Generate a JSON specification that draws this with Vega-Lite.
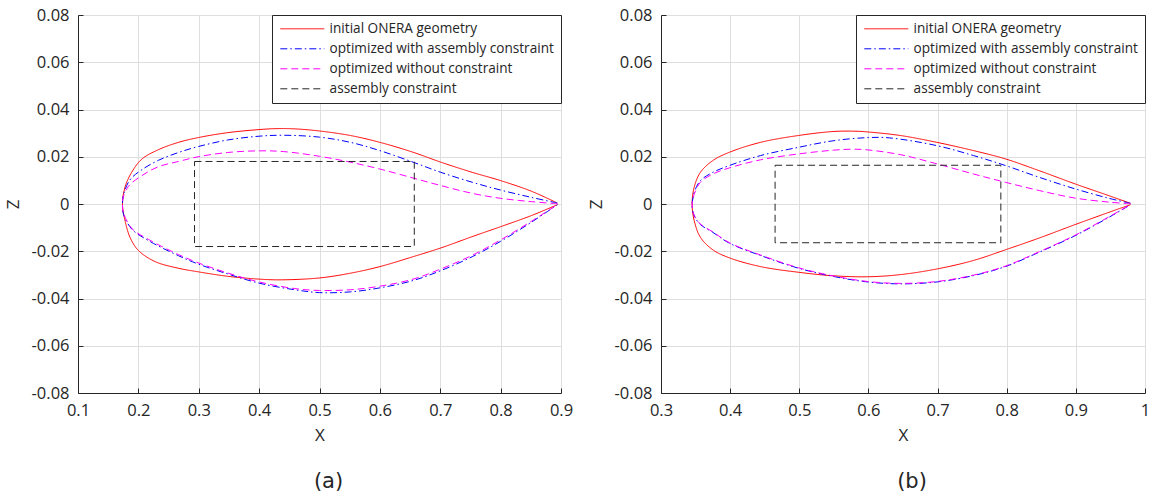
{
  "$schema": "https://vega.github.io/schema/vega-lite/v6.json",
  "background": "white",
  "padding": {"left": 4, "top": 7, "right": 0, "bottom": 0},
  "spacing": 100,
  "bounds": "flush",
  "datasets": {
    "airfoil": [
      {"p":"a","s":"initial ONERA geometry","i":0,"x":0.894,"z":0.0004},
      {"p":"a","s":"initial ONERA geometry","i":1,"x":0.851,"z":0.0054},
      {"p":"a","s":"initial ONERA geometry","i":2,"x":0.800,"z":0.0099},
      {"p":"a","s":"initial ONERA geometry","i":3,"x":0.753,"z":0.0134},
      {"p":"a","s":"initial ONERA geometry","i":4,"x":0.701,"z":0.0177},
      {"p":"a","s":"initial ONERA geometry","i":5,"x":0.655,"z":0.0219},
      {"p":"a","s":"initial ONERA geometry","i":6,"x":0.600,"z":0.0261},
      {"p":"a","s":"initial ONERA geometry","i":7,"x":0.551,"z":0.0290},
      {"p":"a","s":"initial ONERA geometry","i":8,"x":0.500,"z":0.0309},
      {"p":"a","s":"initial ONERA geometry","i":9,"x":0.459,"z":0.0318},
      {"p":"a","s":"initial ONERA geometry","i":10,"x":0.428,"z":0.0319},
      {"p":"a","s":"initial ONERA geometry","i":11,"x":0.400,"z":0.0315},
      {"p":"a","s":"initial ONERA geometry","i":12,"x":0.348,"z":0.0302},
      {"p":"a","s":"initial ONERA geometry","i":13,"x":0.299,"z":0.0281},
      {"p":"a","s":"initial ONERA geometry","i":14,"x":0.2665,"z":0.0261},
      {"p":"a","s":"initial ONERA geometry","i":15,"x":0.2333,"z":0.0230},
      {"p":"a","s":"initial ONERA geometry","i":16,"x":0.2057,"z":0.0190},
      {"p":"a","s":"initial ONERA geometry","i":17,"x":0.1891,"z":0.0135},
      {"p":"a","s":"initial ONERA geometry","i":18,"x":0.1782,"z":0.0074},
      {"p":"a","s":"initial ONERA geometry","i":19,"x":0.1737,"z":0.0},
      {"p":"a","s":"initial ONERA geometry","i":20,"x":0.1782,"z":-0.0074},
      {"p":"a","s":"initial ONERA geometry","i":21,"x":0.1865,"z":-0.0143},
      {"p":"a","s":"initial ONERA geometry","i":22,"x":0.2002,"z":-0.0197},
      {"p":"a","s":"initial ONERA geometry","i":23,"x":0.2279,"z":-0.0244},
      {"p":"a","s":"initial ONERA geometry","i":24,"x":0.2665,"z":-0.0272},
      {"p":"a","s":"initial ONERA geometry","i":25,"x":0.299,"z":-0.0287},
      {"p":"a","s":"initial ONERA geometry","i":26,"x":0.348,"z":-0.0306},
      {"p":"a","s":"initial ONERA geometry","i":27,"x":0.400,"z":-0.0318},
      {"p":"a","s":"initial ONERA geometry","i":28,"x":0.437,"z":-0.0321},
      {"p":"a","s":"initial ONERA geometry","i":29,"x":0.500,"z":-0.0313},
      {"p":"a","s":"initial ONERA geometry","i":30,"x":0.551,"z":-0.0293},
      {"p":"a","s":"initial ONERA geometry","i":31,"x":0.600,"z":-0.0265},
      {"p":"a","s":"initial ONERA geometry","i":32,"x":0.655,"z":-0.0223},
      {"p":"a","s":"initial ONERA geometry","i":33,"x":0.701,"z":-0.0186},
      {"p":"a","s":"initial ONERA geometry","i":34,"x":0.753,"z":-0.0138},
      {"p":"a","s":"initial ONERA geometry","i":35,"x":0.800,"z":-0.0096},
      {"p":"a","s":"initial ONERA geometry","i":36,"x":0.851,"z":-0.0049},
      {"p":"a","s":"initial ONERA geometry","i":37,"x":0.894,"z":-0.0003},

      {"p":"a","s":"optimized with assembly constraint","i":0,"x":0.894,"z":0.0004},
      {"p":"a","s":"optimized with assembly constraint","i":1,"x":0.851,"z":0.0028},
      {"p":"a","s":"optimized with assembly constraint","i":2,"x":0.800,"z":0.0059},
      {"p":"a","s":"optimized with assembly constraint","i":3,"x":0.753,"z":0.0092},
      {"p":"a","s":"optimized with assembly constraint","i":4,"x":0.701,"z":0.0134},
      {"p":"a","s":"optimized with assembly constraint","i":5,"x":0.655,"z":0.0177},
      {"p":"a","s":"optimized with assembly constraint","i":6,"x":0.600,"z":0.0226},
      {"p":"a","s":"optimized with assembly constraint","i":7,"x":0.551,"z":0.0261},
      {"p":"a","s":"optimized with assembly constraint","i":8,"x":0.500,"z":0.0283},
      {"p":"a","s":"optimized with assembly constraint","i":9,"x":0.440,"z":0.0291},
      {"p":"a","s":"optimized with assembly constraint","i":10,"x":0.400,"z":0.0287},
      {"p":"a","s":"optimized with assembly constraint","i":11,"x":0.348,"z":0.0271},
      {"p":"a","s":"optimized with assembly constraint","i":12,"x":0.299,"z":0.0243},
      {"p":"a","s":"optimized with assembly constraint","i":13,"x":0.2665,"z":0.0218},
      {"p":"a","s":"optimized with assembly constraint","i":14,"x":0.2333,"z":0.0185},
      {"p":"a","s":"optimized with assembly constraint","i":15,"x":0.2057,"z":0.0145},
      {"p":"a","s":"optimized with assembly constraint","i":16,"x":0.186,"z":0.0102},
      {"p":"a","s":"optimized with assembly constraint","i":17,"x":0.1754,"z":0.0040},
      {"p":"a","s":"optimized with assembly constraint","i":18,"x":0.1737,"z":0.0},
      {"p":"a","s":"optimized with assembly constraint","i":19,"x":0.1750,"z":-0.0040},
      {"p":"a","s":"optimized with assembly constraint","i":20,"x":0.189,"z":-0.0106},
      {"p":"a","s":"optimized with assembly constraint","i":21,"x":0.2168,"z":-0.0155},
      {"p":"a","s":"optimized with assembly constraint","i":22,"x":0.2665,"z":-0.0219},
      {"p":"a","s":"optimized with assembly constraint","i":23,"x":0.299,"z":-0.0254},
      {"p":"a","s":"optimized with assembly constraint","i":24,"x":0.348,"z":-0.0296},
      {"p":"a","s":"optimized with assembly constraint","i":25,"x":0.400,"z":-0.0335},
      {"p":"a","s":"optimized with assembly constraint","i":26,"x":0.459,"z":-0.0363},
      {"p":"a","s":"optimized with assembly constraint","i":27,"x":0.500,"z":-0.0375},
      {"p":"a","s":"optimized with assembly constraint","i":28,"x":0.551,"z":-0.0372},
      {"p":"a","s":"optimized with assembly constraint","i":29,"x":0.600,"z":-0.0355},
      {"p":"a","s":"optimized with assembly constraint","i":30,"x":0.655,"z":-0.0324},
      {"p":"a","s":"optimized with assembly constraint","i":31,"x":0.701,"z":-0.0282},
      {"p":"a","s":"optimized with assembly constraint","i":32,"x":0.753,"z":-0.0223},
      {"p":"a","s":"optimized with assembly constraint","i":33,"x":0.800,"z":-0.0158},
      {"p":"a","s":"optimized with assembly constraint","i":34,"x":0.851,"z":-0.0077},
      {"p":"a","s":"optimized with assembly constraint","i":35,"x":0.894,"z":-0.0003},

      {"p":"a","s":"optimized without constraint","i":0,"x":0.894,"z":0.0001},
      {"p":"a","s":"optimized without constraint","i":1,"x":0.851,"z":0.0010},
      {"p":"a","s":"optimized without constraint","i":2,"x":0.800,"z":0.0024},
      {"p":"a","s":"optimized without constraint","i":3,"x":0.753,"z":0.0045},
      {"p":"a","s":"optimized without constraint","i":4,"x":0.701,"z":0.0078},
      {"p":"a","s":"optimized without constraint","i":5,"x":0.655,"z":0.0110},
      {"p":"a","s":"optimized without constraint","i":6,"x":0.600,"z":0.0148},
      {"p":"a","s":"optimized without constraint","i":7,"x":0.551,"z":0.0177},
      {"p":"a","s":"optimized without constraint","i":8,"x":0.500,"z":0.0202},
      {"p":"a","s":"optimized without constraint","i":9,"x":0.440,"z":0.0222},
      {"p":"a","s":"optimized without constraint","i":10,"x":0.400,"z":0.0225},
      {"p":"a","s":"optimized without constraint","i":11,"x":0.348,"z":0.0218},
      {"p":"a","s":"optimized without constraint","i":12,"x":0.299,"z":0.0200},
      {"p":"a","s":"optimized without constraint","i":13,"x":0.2665,"z":0.0180},
      {"p":"a","s":"optimized without constraint","i":14,"x":0.2333,"z":0.0158},
      {"p":"a","s":"optimized without constraint","i":15,"x":0.2057,"z":0.0120},
      {"p":"a","s":"optimized without constraint","i":16,"x":0.1836,"z":0.0075},
      {"p":"a","s":"optimized without constraint","i":17,"x":0.1745,"z":0.0025},
      {"p":"a","s":"optimized without constraint","i":18,"x":0.1737,"z":0.0},
      {"p":"a","s":"optimized without constraint","i":19,"x":0.1750,"z":-0.0035},
      {"p":"a","s":"optimized without constraint","i":20,"x":0.189,"z":-0.0103},
      {"p":"a","s":"optimized without constraint","i":21,"x":0.2168,"z":-0.0150},
      {"p":"a","s":"optimized without constraint","i":22,"x":0.2665,"z":-0.0214},
      {"p":"a","s":"optimized without constraint","i":23,"x":0.299,"z":-0.0249},
      {"p":"a","s":"optimized without constraint","i":24,"x":0.348,"z":-0.0292},
      {"p":"a","s":"optimized without constraint","i":25,"x":0.400,"z":-0.0330},
      {"p":"a","s":"optimized without constraint","i":26,"x":0.459,"z":-0.0358},
      {"p":"a","s":"optimized without constraint","i":27,"x":0.500,"z":-0.0366},
      {"p":"a","s":"optimized without constraint","i":28,"x":0.551,"z":-0.0363},
      {"p":"a","s":"optimized without constraint","i":29,"x":0.600,"z":-0.0348},
      {"p":"a","s":"optimized without constraint","i":30,"x":0.655,"z":-0.0318},
      {"p":"a","s":"optimized without constraint","i":31,"x":0.701,"z":-0.0275},
      {"p":"a","s":"optimized without constraint","i":32,"x":0.753,"z":-0.0217},
      {"p":"a","s":"optimized without constraint","i":33,"x":0.800,"z":-0.0152},
      {"p":"a","s":"optimized without constraint","i":34,"x":0.851,"z":-0.0073},
      {"p":"a","s":"optimized without constraint","i":35,"x":0.894,"z":-0.0003},

      {"p":"a","s":"assembly constraint","i":0,"x":0.293,"z":0.018},
      {"p":"a","s":"assembly constraint","i":1,"x":0.657,"z":0.018},
      {"p":"a","s":"assembly constraint","i":2,"x":0.657,"z":-0.018},
      {"p":"a","s":"assembly constraint","i":3,"x":0.293,"z":-0.018},
      {"p":"a","s":"assembly constraint","i":4,"x":0.293,"z":0.018},

      {"p":"b","s":"initial ONERA geometry","i":0,"x":0.979,"z":0.0003},
      {"p":"b","s":"initial ONERA geometry","i":1,"x":0.948,"z":0.0035},
      {"p":"b","s":"initial ONERA geometry","i":2,"x":0.899,"z":0.0085},
      {"p":"b","s":"initial ONERA geometry","i":3,"x":0.847,"z":0.0141},
      {"p":"b","s":"initial ONERA geometry","i":4,"x":0.798,"z":0.0191},
      {"p":"b","s":"initial ONERA geometry","i":5,"x":0.752,"z":0.0226},
      {"p":"b","s":"initial ONERA geometry","i":6,"x":0.699,"z":0.0261},
      {"p":"b","s":"initial ONERA geometry","i":7,"x":0.646,"z":0.0290},
      {"p":"b","s":"initial ONERA geometry","i":8,"x":0.599,"z":0.0305},
      {"p":"b","s":"initial ONERA geometry","i":9,"x":0.582,"z":0.0308},
      {"p":"b","s":"initial ONERA geometry","i":10,"x":0.550,"z":0.0307},
      {"p":"b","s":"initial ONERA geometry","i":11,"x":0.499,"z":0.0290},
      {"p":"b","s":"initial ONERA geometry","i":12,"x":0.444,"z":0.0261},
      {"p":"b","s":"initial ONERA geometry","i":13,"x":0.399,"z":0.0219},
      {"p":"b","s":"initial ONERA geometry","i":14,"x":0.375,"z":0.0184},
      {"p":"b","s":"initial ONERA geometry","i":15,"x":0.357,"z":0.0134},
      {"p":"b","s":"initial ONERA geometry","i":16,"x":0.348,"z":0.0071},
      {"p":"b","s":"initial ONERA geometry","i":17,"x":0.345,"z":0.0},
      {"p":"b","s":"initial ONERA geometry","i":18,"x":0.348,"z":-0.0070},
      {"p":"b","s":"initial ONERA geometry","i":19,"x":0.357,"z":-0.0141},
      {"p":"b","s":"initial ONERA geometry","i":20,"x":0.375,"z":-0.0194},
      {"p":"b","s":"initial ONERA geometry","i":21,"x":0.399,"z":-0.0228},
      {"p":"b","s":"initial ONERA geometry","i":22,"x":0.444,"z":-0.0265},
      {"p":"b","s":"initial ONERA geometry","i":23,"x":0.499,"z":-0.0289},
      {"p":"b","s":"initial ONERA geometry","i":24,"x":0.550,"z":-0.0304},
      {"p":"b","s":"initial ONERA geometry","i":25,"x":0.599,"z":-0.0308},
      {"p":"b","s":"initial ONERA geometry","i":26,"x":0.646,"z":-0.0299},
      {"p":"b","s":"initial ONERA geometry","i":27,"x":0.699,"z":-0.0275},
      {"p":"b","s":"initial ONERA geometry","i":28,"x":0.752,"z":-0.0239},
      {"p":"b","s":"initial ONERA geometry","i":29,"x":0.798,"z":-0.0194},
      {"p":"b","s":"initial ONERA geometry","i":30,"x":0.847,"z":-0.0144},
      {"p":"b","s":"initial ONERA geometry","i":31,"x":0.899,"z":-0.0087},
      {"p":"b","s":"initial ONERA geometry","i":32,"x":0.948,"z":-0.0035},
      {"p":"b","s":"initial ONERA geometry","i":33,"x":0.979,"z":-0.0003},

      {"p":"b","s":"optimized with assembly constraint","i":0,"x":0.979,"z":0.0003},
      {"p":"b","s":"optimized with assembly constraint","i":1,"x":0.948,"z":0.0024},
      {"p":"b","s":"optimized with assembly constraint","i":2,"x":0.899,"z":0.0064},
      {"p":"b","s":"optimized with assembly constraint","i":3,"x":0.847,"z":0.0113},
      {"p":"b","s":"optimized with assembly constraint","i":4,"x":0.798,"z":0.0163},
      {"p":"b","s":"optimized with assembly constraint","i":5,"x":0.752,"z":0.0205},
      {"p":"b","s":"optimized with assembly constraint","i":6,"x":0.699,"z":0.0247},
      {"p":"b","s":"optimized with assembly constraint","i":7,"x":0.630,"z":0.0280},
      {"p":"b","s":"optimized with assembly constraint","i":8,"x":0.599,"z":0.0281},
      {"p":"b","s":"optimized with assembly constraint","i":9,"x":0.550,"z":0.0268},
      {"p":"b","s":"optimized with assembly constraint","i":10,"x":0.499,"z":0.0240},
      {"p":"b","s":"optimized with assembly constraint","i":11,"x":0.444,"z":0.0205},
      {"p":"b","s":"optimized with assembly constraint","i":12,"x":0.399,"z":0.0163},
      {"p":"b","s":"optimized with assembly constraint","i":13,"x":0.375,"z":0.0134},
      {"p":"b","s":"optimized with assembly constraint","i":14,"x":0.357,"z":0.0099},
      {"p":"b","s":"optimized with assembly constraint","i":15,"x":0.349,"z":0.0057},
      {"p":"b","s":"optimized with assembly constraint","i":16,"x":0.346,"z":0.0021},
      {"p":"b","s":"optimized with assembly constraint","i":17,"x":0.345,"z":0.0},
      {"p":"b","s":"optimized with assembly constraint","i":18,"x":0.346,"z":-0.0030},
      {"p":"b","s":"optimized with assembly constraint","i":19,"x":0.349,"z":-0.0056},
      {"p":"b","s":"optimized with assembly constraint","i":20,"x":0.357,"z":-0.0087},
      {"p":"b","s":"optimized with assembly constraint","i":21,"x":0.375,"z":-0.0120},
      {"p":"b","s":"optimized with assembly constraint","i":22,"x":0.399,"z":-0.0166},
      {"p":"b","s":"optimized with assembly constraint","i":23,"x":0.444,"z":-0.0218},
      {"p":"b","s":"optimized with assembly constraint","i":24,"x":0.499,"z":-0.0272},
      {"p":"b","s":"optimized with assembly constraint","i":25,"x":0.550,"z":-0.0307},
      {"p":"b","s":"optimized with assembly constraint","i":26,"x":0.599,"z":-0.0330},
      {"p":"b","s":"optimized with assembly constraint","i":27,"x":0.646,"z":-0.0338},
      {"p":"b","s":"optimized with assembly constraint","i":28,"x":0.699,"z":-0.0330},
      {"p":"b","s":"optimized with assembly constraint","i":29,"x":0.752,"z":-0.0303},
      {"p":"b","s":"optimized with assembly constraint","i":30,"x":0.798,"z":-0.0265},
      {"p":"b","s":"optimized with assembly constraint","i":31,"x":0.847,"z":-0.0204},
      {"p":"b","s":"optimized with assembly constraint","i":32,"x":0.899,"z":-0.0134},
      {"p":"b","s":"optimized with assembly constraint","i":33,"x":0.948,"z":-0.0056},
      {"p":"b","s":"optimized with assembly constraint","i":34,"x":0.979,"z":-0.0003},

      {"p":"b","s":"optimized without constraint","i":0,"x":0.979,"z":0.0001},
      {"p":"b","s":"optimized without constraint","i":1,"x":0.948,"z":0.0008},
      {"p":"b","s":"optimized without constraint","i":2,"x":0.899,"z":0.0025},
      {"p":"b","s":"optimized without constraint","i":3,"x":0.847,"z":0.0057},
      {"p":"b","s":"optimized without constraint","i":4,"x":0.798,"z":0.0092},
      {"p":"b","s":"optimized without constraint","i":5,"x":0.752,"z":0.0127},
      {"p":"b","s":"optimized without constraint","i":6,"x":0.699,"z":0.0170},
      {"p":"b","s":"optimized without constraint","i":7,"x":0.646,"z":0.0209},
      {"p":"b","s":"optimized without constraint","i":8,"x":0.599,"z":0.0229},
      {"p":"b","s":"optimized without constraint","i":9,"x":0.577,"z":0.0232},
      {"p":"b","s":"optimized without constraint","i":10,"x":0.550,"z":0.0228},
      {"p":"b","s":"optimized without constraint","i":11,"x":0.499,"z":0.0212},
      {"p":"b","s":"optimized without constraint","i":12,"x":0.444,"z":0.0187},
      {"p":"b","s":"optimized without constraint","i":13,"x":0.399,"z":0.0153},
      {"p":"b","s":"optimized without constraint","i":14,"x":0.375,"z":0.0127},
      {"p":"b","s":"optimized without constraint","i":15,"x":0.357,"z":0.0092},
      {"p":"b","s":"optimized without constraint","i":16,"x":0.349,"z":0.0049},
      {"p":"b","s":"optimized without constraint","i":17,"x":0.346,"z":0.0021},
      {"p":"b","s":"optimized without constraint","i":18,"x":0.345,"z":0.0},
      {"p":"b","s":"optimized without constraint","i":19,"x":0.346,"z":-0.0028},
      {"p":"b","s":"optimized without constraint","i":20,"x":0.349,"z":-0.0054},
      {"p":"b","s":"optimized without constraint","i":21,"x":0.357,"z":-0.0085},
      {"p":"b","s":"optimized without constraint","i":22,"x":0.375,"z":-0.0118},
      {"p":"b","s":"optimized without constraint","i":23,"x":0.399,"z":-0.0164},
      {"p":"b","s":"optimized without constraint","i":24,"x":0.444,"z":-0.0216},
      {"p":"b","s":"optimized without constraint","i":25,"x":0.499,"z":-0.0270},
      {"p":"b","s":"optimized without constraint","i":26,"x":0.550,"z":-0.0305},
      {"p":"b","s":"optimized without constraint","i":27,"x":0.599,"z":-0.0328},
      {"p":"b","s":"optimized without constraint","i":28,"x":0.646,"z":-0.0336},
      {"p":"b","s":"optimized without constraint","i":29,"x":0.699,"z":-0.0328},
      {"p":"b","s":"optimized without constraint","i":30,"x":0.752,"z":-0.0301},
      {"p":"b","s":"optimized without constraint","i":31,"x":0.798,"z":-0.0263},
      {"p":"b","s":"optimized without constraint","i":32,"x":0.847,"z":-0.0202},
      {"p":"b","s":"optimized without constraint","i":33,"x":0.899,"z":-0.0132},
      {"p":"b","s":"optimized without constraint","i":34,"x":0.948,"z":-0.0054},
      {"p":"b","s":"optimized without constraint","i":35,"x":0.979,"z":-0.0003},

      {"p":"b","s":"assembly constraint","i":0,"x":0.465,"z":0.0164},
      {"p":"b","s":"assembly constraint","i":1,"x":0.7915,"z":0.0164},
      {"p":"b","s":"assembly constraint","i":2,"x":0.7915,"z":-0.0164},
      {"p":"b","s":"assembly constraint","i":3,"x":0.465,"z":-0.0164},
      {"p":"b","s":"assembly constraint","i":4,"x":0.465,"z":0.0164}
    ]
  },
  "hconcat": [
    {
      "width": 483,
      "height": 378,
      "data": {"name": "airfoil"},
      "transform": [{"filter": "datum.p == 'a'"}],
      "title": {"text": "(a)", "orient": "bottom", "dx": 9},
      "encoding": {
        "x": {"field": "x", "type": "quantitative", "title": "X",
              "scale": {"domain": [0.1, 0.9], "nice": false, "zero": false},
              "axis": {"values": [0.1,0.2,0.3,0.4,0.5,0.6,0.7,0.8,0.9], "labelExpr": "'' + (round(datum.value*10)/10)"}},
        "y": {"field": "z", "type": "quantitative", "title": "Z",
              "scale": {"domain": [-0.08, 0.08], "nice": false, "zero": false},
              "axis": {"values": [-0.08,-0.06,-0.04,-0.02,0,0.02,0.04,0.06,0.08], "labelExpr": "'' + (round(datum.value*100)/100)"}},
        "order": {"field": "i", "type": "quantitative"},
        "color": {"field": "s", "type": "nominal", "title": null,
                  "scale": {"domain": ["initial ONERA geometry","optimized with assembly constraint","optimized without constraint","assembly constraint"], "range": ["#ff0000","#0000ff","#ff00ff","#262626"]}},
        "strokeDash": {"field": "s", "type": "nominal", "title": null,
                  "scale": {"domain": ["initial ONERA geometry","optimized with assembly constraint","optimized without constraint","assembly constraint"], "range": [[1,0],[7,3,1.5,3],[7,4],[7,4]]}}
      },
      "layer": [
        {"transform": [{"filter": "datum.s != 'assembly constraint'"}],
         "mark": {"type": "line", "strokeWidth": 1, "clip": true, "interpolate": "catmull-rom"}},
        {"transform": [{"filter": "datum.s == 'assembly constraint'"}],
         "mark": {"type": "line", "strokeWidth": 1, "clip": true}}
      ]
    },
    {
      "width": 484,
      "height": 378,
      "data": {"name": "airfoil"},
      "transform": [{"filter": "datum.p == 'b'"}],
      "title": {"text": "(b)", "orient": "bottom", "dx": 9},
      "encoding": {
        "x": {"field": "x", "type": "quantitative", "title": "X",
              "scale": {"domain": [0.3, 1.0], "nice": false, "zero": false},
              "axis": {"values": [0.3,0.4,0.5,0.6,0.7,0.8,0.9,1.0], "labelExpr": "'' + (round(datum.value*10)/10)"}},
        "y": {"field": "z", "type": "quantitative", "title": "Z",
              "scale": {"domain": [-0.08, 0.08], "nice": false, "zero": false},
              "axis": {"values": [-0.08,-0.06,-0.04,-0.02,0,0.02,0.04,0.06,0.08], "labelExpr": "'' + (round(datum.value*100)/100)"}},
        "order": {"field": "i", "type": "quantitative"},
        "color": {"field": "s", "type": "nominal", "title": null,
                  "scale": {"domain": ["initial ONERA geometry","optimized with assembly constraint","optimized without constraint","assembly constraint"], "range": ["#ff0000","#0000ff","#ff00ff","#262626"]}},
        "strokeDash": {"field": "s", "type": "nominal", "title": null,
                  "scale": {"domain": ["initial ONERA geometry","optimized with assembly constraint","optimized without constraint","assembly constraint"], "range": [[1,0],[7,3,1.5,3],[7,4],[7,4]]}}
      },
      "layer": [
        {"transform": [{"filter": "datum.s != 'assembly constraint'"}],
         "mark": {"type": "line", "strokeWidth": 1, "clip": true, "interpolate": "catmull-rom"}},
        {"transform": [{"filter": "datum.s == 'assembly constraint'"}],
         "mark": {"type": "line", "strokeWidth": 1, "clip": true}}
      ]
    }
  ],
  "resolve": {
    "scale": {"x": "independent", "color": "independent", "strokeDash": "independent"},
    "legend": {"color": "independent", "strokeDash": "independent"}
  },
  "config": {
    "view": {"stroke": null},
    "font": "Open Sans",
    "axis": {
      "domainColor": "#262626",
      "domainWidth": 1,
      "tickColor": "#262626",
      "tickSize": -5,
      "labelColor": "#262626",
      "labelFont": "Open Sans",
      "labelFontSize": 16.5,
      "labelPadding": 14,
      "titleColor": "#262626",
      "titleFont": "Open Sans",
      "titleFontSize": 17,
      "titleFontWeight": "normal",
      "gridColor": "#dedede",
      "gridWidth": 1,
      "grid": true,
      "labelFlush": false,
      "labelOverlap": false
    },
    "axisX": {"titlePadding": 9},
    "axisY": {"titlePadding": 9},
    "legend": {
      "orient": "top-right",
      "offset": 0,
      "symbolType": "M-1,0H7",
      "symbolSize": 121,
      "symbolStrokeWidth": 1,
      "labelFont": "Open Sans",
      "labelFontSize": 13.6,
      "labelColor": "#262626",
      "labelOffset": 37,
      "labelLimit": 400,
      "padding": 7,
      "rowPadding": 5,
      "strokeColor": "#262626",
      "fillColor": "white"
    },
    "title": {"font": "DejaVu Sans", "fontSize": 21, "fontWeight": "normal", "color": "#262626", "offset": 27}
  }
}
